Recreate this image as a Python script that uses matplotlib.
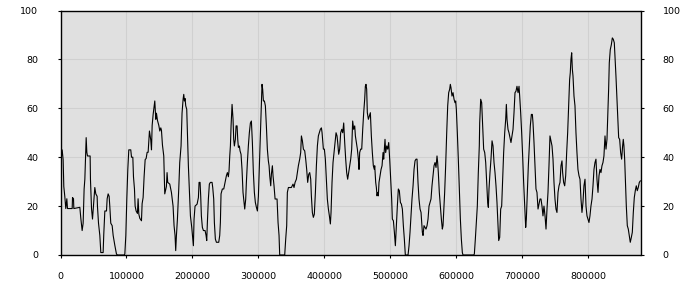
import numpy as np
import matplotlib
matplotlib.use('Agg')
import matplotlib.pyplot as plt
from matplotlib.ticker import FixedLocator

# positions along the x axis, in thousands
x_k = [
    0, 1.5, 2.5, 4, 5, 6.5, 8, 9.6, 10.6, 17.7, 18.2, 19.7, 20.2, 29.3, 30.8, 32.8, 34.3, 35.8, 36.9, 38.9,
    39.9, 40.9, 44.9, 45.4, 47, 48.5, 50, 52, 53.5, 55.5, 56, 57.6, 59.6, 61.1, 64.6, 65.6, 67.2, 69.7, 70.7, 72.2,
    73.7, 74.7, 76.2, 78.3, 79.8, 82.3, 84.8, 86.3, 96.4, 97.5, 99, 100.5, 102, 103.5, 106.5, 107.6, 109.6, 110.6, 112.1, 113.1,
    114.6, 116.6, 117.6, 118.7, 120.2, 122.7, 123.7, 125.2, 126.7, 128.3, 129.8, 131.3, 132.8, 134.8, 136.8, 137.9, 138.9, 140.4, 141.9, 142.9,
    144.4, 145.4, 147, 149, 150.5, 152, 153, 154.5, 156.5, 158,
    160.5, 161.5, 162.5, 165.6, 168.1, 170.6, 172.1, 173.6, 174.6, 175.7, 177.2, 179.2, 180.7, 182.7, 184.2, 185.8, 186.8, 187.8, 188.8, 189.8,
    191.3, 192.3, 193.8, 195.3, 196.9, 198.9, 200.4, 201.4, 202.4, 203.9, 207, 209, 210, 211.5, 212.5, 213.5, 215, 216.6, 219.1, 220.6,
    221.6, 222.6, 224.1, 225.6, 227.2, 229.7, 230.7, 232.2, 233.2, 234.7, 236.3, 239.8, 241.3, 242.3, 243.3, 245.3, 247.4, 249.4, 251.4, 252.9,
    254.4, 255.4, 256.5, 257.5, 258.5, 260, 261.5, 262.5, 263.5, 265, 266.1, 267.6, 268.6, 269.6, 271.1, 272.1, 273.6, 275.1, 276.6, 278.2,
    279.2, 280.7, 281.7, 283.2, 284.7, 286.2, 287.8, 289.3, 290.8, 292.3, 293.8, 295.3, 296.9, 298.4, 299.9, 301.4, 302.9, 304.4, 305.4, 306.4,
    307.5, 309, 310.5, 312, 313.5, 315, 316.1, 317.1,
    318.6, 319.6, 321.1, 322.1, 323.6, 325.2, 328.2, 329.7, 331.2, 332.2, 339.8, 341.3, 342.8, 343.8, 345.4, 349.9, 352.4, 353.9, 355.5, 357.5,
    359, 360.5, 362.5, 364, 365.1, 366.6, 368.1, 370.1, 371.6, 373.1, 374.6, 376.2, 377.7, 379.2, 380.2, 381.7, 383.2, 384.7, 386.3, 387.8,
    389.3, 390.8, 392.3, 393.8, 395.4, 396.4, 397.4, 398.4, 399.9, 401.4, 402.9, 404.4, 406, 407.5, 409, 410, 411.5, 413, 414.5, 416.1,
    417.6, 419.1, 420.1, 421.6, 423.1, 424.6, 426.2, 427.7, 429.2, 430.7, 432.2, 433.7, 435.2, 436.8, 438.3, 439.8, 441.3, 442.8, 444.3, 445.9,
    446.9, 448.4, 449.9, 451.4, 452.4, 453.4, 454.9, 456.5, 458, 459.5, 461, 462, 463, 464, 465, 466.6, 468.1, 469.6, 471.1, 472.6,
    474.1, 475.6,
    476.2, 477.7, 478.7, 479.7, 480.7, 481.7, 482.7, 484.3, 485.8, 487.3, 488.8, 489.8, 490.8, 491.8, 492.8, 494.4, 495.9, 497.4, 498.9, 500.4,
    501.9, 502.9, 504.5, 506, 507.5, 509, 510.5, 512, 513.5, 515.1, 516.6, 518.1, 519.6, 521.1, 522.6, 526.7, 528.2, 529.7, 531.2, 532.7,
    534.3, 535.8, 537.3, 538.8, 540.3, 541.8, 543.3, 544.9, 546.4, 547.4, 548.4, 549.4, 550.9, 552.4, 553.9, 555.5, 557, 558.5, 560, 561.5,
    563, 564.6, 566.1, 567.6, 569.1, 570.6, 571.6, 572.6, 574.1, 575.7, 577.2, 578.7, 579.7, 580.7, 582.2, 583.7, 585.3, 586.8, 588.3, 589.8,
    590.8, 591.8, 593.3, 594.9, 596.4, 597.9, 598.9, 599.9, 601.4, 602.9, 604.4, 606, 607.5, 609, 610, 626.2, 627.2, 628.7, 630.2, 631.7,
    633.2, 634.7,
    635.3, 636.8, 638.3, 639.8, 641.3, 642.9, 644.4, 645.9, 647.4, 648.4, 649.4, 650.9, 652.4, 654, 655.5, 657, 658.5, 660, 661.5, 663.1,
    664.1, 665.6, 667.1, 668.6, 670.1, 671.6, 673.2, 674.7, 675.7, 676.7, 678.2, 679.7, 681.2, 682.7, 684.3, 685.8, 687.3, 688.8, 690.3, 691.8,
    693.4, 694.9, 695.9, 697.4, 698.9, 700.4, 701.9, 703.5, 705, 706, 707.5, 709, 710.5, 712, 713.6, 715.1, 716.1, 717.6, 719.1, 720.6,
    722.1, 723.7, 725.2, 726.7, 728.2, 729.7, 731.2, 732.7, 734.3, 735.8, 737.3, 738.8, 740.3, 741.8, 743.3, 744.9, 746.4, 747.9, 749.4, 750.9,
    752.4, 754, 755.5, 757, 758.5, 760, 761, 762.5, 764.1, 765.6, 767.1, 768.6, 770.1, 771.6, 772.6, 773.6, 774.7, 775.7, 776.7, 778.2,
    779.7, 781.2, 782.7, 784.2, 785.8, 787.3, 788.8, 790.3, 791.8, 793.3,
    794.9, 796.4, 797.9, 799.4, 800.9, 802.4, 803.9, 805.5, 807, 808.5, 810, 811.5, 813, 814.6, 816.1, 817.6, 819.1, 820.6, 822.1, 823.6,
    825.2, 826.7, 828.2, 829.7, 830.7, 831.7, 833.2, 834.8, 836.3, 837.8, 839.3, 840.3, 841.8, 843.3, 844.9, 845.9, 847.4, 848.9, 850.4, 851.9,
    852.9, 853.9, 855, 856, 857.5, 859, 860.5, 862, 863.5, 865.1, 866.6, 868.1, 869.6, 871.1, 872.6, 874.1, 875.6, 877.2, 878.7,
]

values = [
    33, 40.5, 43, 39, 28, 24, 19, 23, 19, 19, 23.5, 23, 19, 19.5, 15, 10, 13, 27, 31, 48,
    42, 40.5, 40.5, 31, 19, 14.7, 20, 27.6, 25, 24, 20, 13, 8, 1, 1, 8.6, 18, 18, 23, 25,
    24, 20, 13, 12, 8, 4, 0.4, 0, 0, 0.4, 8, 23, 35, 43, 43, 40, 40, 32, 27, 20,
    18, 17, 23, 16.7, 15, 14, 21, 23.5, 32, 39, 39.5, 42, 42, 50.7, 47, 43, 53, 57.5, 61, 63,
    55.5, 58, 55, 53, 50.7, 52, 51, 45, 40.5, 25,
    28, 33.7, 29.7, 29, 25.6, 20, 12, 8, 1.8, 8, 14.7, 27, 37.8, 44.6, 58, 63.7, 65.7, 63, 64, 61,
    59.6, 50.7, 36.5, 27, 16, 11.3, 6.5, 3.8, 14.7, 20, 20.8, 23.5, 29.7, 29.7, 24, 16, 11.3, 10, 10, 8,
    5.9, 13.3, 22.9, 29, 29.7, 29.7, 27.6, 22.9, 13.3, 6.5, 5.2, 5.2, 8, 13.3, 25, 27, 27, 29.7, 32.4, 33.7,
    32, 34.4, 40.5, 44.6, 52.8, 61.6, 55.5, 47.3, 44.6, 47.3, 52.8, 52.8, 47.3, 44, 44.6, 42.6, 41.2, 35, 25.6, 21.5,
    18.8, 22.9, 29.7, 37.8, 44.6, 50, 54, 54.8, 46, 33.7, 25.6, 21.5, 19.5, 18, 24, 36.5, 50, 62.3, 69.8, 67.8,
    63, 63, 61, 52.8, 43.3, 38.5, 36.5, 32.4,
    28.3, 33, 36.5, 32.4, 28.3, 22.9, 22.9, 13.3, 8, 0, 0, 6.5, 12, 25.6, 27.6, 27.6, 29, 27.6, 29.7, 31,
    33.7, 36.5, 39.2, 41.9, 48.7, 46.7, 43.3, 42.6, 39.2, 35, 29.7, 33, 33.7, 31, 24.2, 17.4, 15.4, 16.7, 25.6, 36.5,
    44.6, 48.7, 50, 51.4, 52, 50, 46.7, 43.3, 43.3, 39.2, 31, 22.9, 18.8, 16, 12.7, 17.4, 29.7, 37.8, 41.9, 46,
    50, 48.7, 46, 41.2, 43.3, 50, 51.4, 50, 54, 46, 39.2, 33.7, 31, 33.7, 36.5, 39.2, 43.3, 54.8, 51.4, 52.8,
    48.7, 46, 43.3, 39.2, 35, 41.9, 43.3, 43.3, 51.4, 58.2, 63.7, 69, 69.8, 67.8, 58.2, 55.5, 56.9, 58.2, 48.7, 41.9,
    36.5, 35,
    36.5, 29.7, 27.6, 24.2, 25.6, 24.2, 29.7, 32.4, 35, 36.5, 41.9, 39.2, 43.3, 47.3, 41.9, 44.6, 43.3, 46, 39.2, 31,
    22.9, 14.7, 14, 9.3, 3.8, 12, 20, 27, 26.3, 21.5, 20.8, 18.8, 12, 6.5, 0, 0, 3.8, 9.3, 16, 22.9,
    28.3, 35, 38.5, 39.2, 39.2, 29.7, 22.9, 18.8, 17.4, 13.3, 9.3, 8, 12, 11.3, 10.6, 12, 14.7, 20, 21.5, 22.9,
    28.3, 32.4, 36.5, 37.8, 35.8, 40.5, 37.8, 33.7, 25.6, 20, 14.7, 10.6, 12, 17.4, 25.6, 36.5, 50, 61, 66.4, 67.8,
    69.8, 68.4, 65, 66.4, 63.7, 62.3, 63, 59.6, 50, 39.2, 27, 14.7, 6.5, 1, 0, 0, 0.4, 6.5, 13.3, 20,
    33.7, 44.6,
    54, 63.7, 62.3, 52.8, 43.3, 41.9, 37.8, 29.7, 21.5, 19.5, 27, 33.7, 39.2, 46.7, 44.6, 37.8, 33.7, 28.3, 21.5, 12,
    5.9, 7.2, 18.8, 20, 31, 41.9, 50, 55.5, 61.6, 55.5, 51.4, 50, 48, 46, 48.7, 51.4, 58.2, 66.4, 67, 69,
    66.4, 69, 65, 58.2, 50, 40.5, 29.7, 20, 11.3, 14.7, 25.6, 36.5, 44.6, 52.8, 57.5, 57.5, 54, 46, 36.5, 27,
    25.6, 18.8, 20.8, 22.9, 22.9, 20, 16, 20, 16, 10.6, 18.8, 25.6, 36.5, 48.7, 46.7, 44.6, 39.2, 29.7, 22.9, 18.8,
    17.4, 25.6, 28.3, 29.7, 36.5, 38.5, 33.7, 29.7, 28.3, 32.4, 41.9, 50, 61, 71.8, 74.6, 80, 82.7, 76, 73.2, 65,
    61, 50, 41.9, 35, 32.4, 31, 22.9, 17.4, 21.5, 28.3,
    31, 20, 16, 14.7, 13.3, 16, 20, 22.9, 28.3, 35, 37.8, 39.2, 31, 25.6, 32.4, 35, 33.7, 36.5, 37.8, 40.5,
    48.7, 43.3, 47.3, 59.6, 67.8, 78.6, 84, 86, 88.8, 88.2, 86.8, 81.4, 73.2, 63.7, 54, 48, 47.3, 41.9, 39.2, 44.6,
    47.3, 44.6, 39.2, 31, 20, 12, 10.6, 8, 5.2, 7.2, 9.3, 17.4, 23.5, 26.3, 28.3, 26.3, 27.6, 29.7, 30.3,
]

x_ticks = [0, 100000, 200000, 300000, 400000, 500000, 600000, 700000, 800000]
y_ticks = [0, 20, 40, 60, 80, 100]

x = np.array(x_k) * 1000

fig = plt.figure(figsize=(7, 3), dpi=100)
ax = fig.add_axes([60.5 / 700, 45 / 300, 580 / 700, 244.5 / 300])
ax.set_facecolor('#e0e0e0')

ax.plot(x, values, color='black', linewidth=0.8)

ax.set_xlim(0, 879000)
ax.set_ylim(0, 100)
ax.xaxis.set_major_locator(FixedLocator(x_ticks))
ax.yaxis.set_major_locator(FixedLocator(y_ticks))
ax.set_xticklabels([str(t) for t in x_ticks])
ax.grid(True, color='#d0d0d0', linewidth=0.8)
ax.set_axisbelow(True)

for s in ax.spines.values():
    s.set_color('black')
    s.set_linewidth(1.0)

ax.tick_params(axis='both', which='both', direction='out', length=2, width=0.8,
               labelsize=6.8, colors='black')
ax.tick_params(axis='x', pad=10)
ax.tick_params(axis='y', pad=14, right=True, labelright=True)

fig.savefig('out.png', dpi=100)
